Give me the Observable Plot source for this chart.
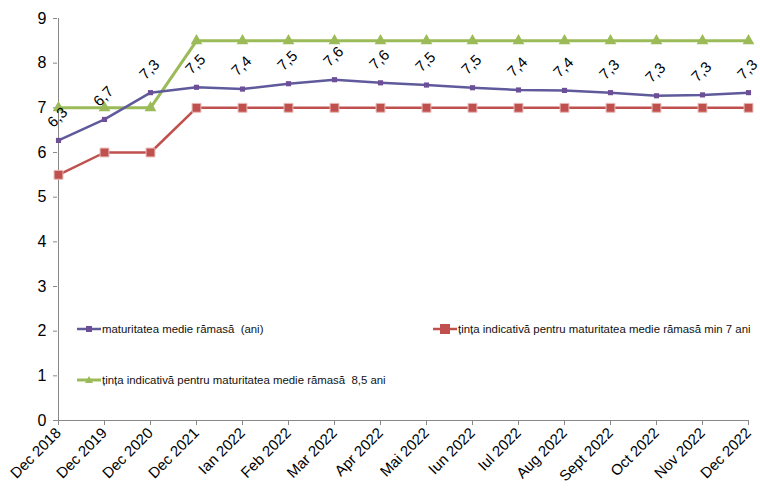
<!DOCTYPE html>
<html><head><meta charset="utf-8">
<script src="https://cdn.jsdelivr.net/npm/d3@7"></script>
<script src="https://cdn.jsdelivr.net/npm/@observablehq/plot@0.6"></script>
<style>
body{margin:0;background:#fff;font-family:"Liberation Sans",Arial,sans-serif;}
#wrap{position:relative;width:760px;height:489px;overflow:hidden;}
.leg{position:absolute;font-size:11.4px;color:#111;display:flex;align-items:center;white-space:pre;height:16px;}
.leg svg{margin-right:1px;}
</style></head><body><div id="wrap"></div>
<script>
const categories = ["Dec 2018","Dec 2019","Dec 2020","Dec 2021","Ian 2022","Feb 2022","Mar 2022","Apr 2022","Mai 2022","Iun 2022","Iul 2022","Aug 2022","Sept 2022","Oct 2022","Nov 2022","Dec 2022"];
const maturitate = [6.27,6.74,7.34,7.46,7.42,7.54,7.63,7.56,7.51,7.45,7.40,7.39,7.34,7.27,7.29,7.34];
const maturitateLabels = ["6,3","6,7","7,3","7,5","7,4","7,5","7,6","7,6","7,5","7,5","7,4","7,4","7,3","7,3","7,3","7,3"];
const tintaMin7 = [5.5,6,6,7,7,7,7,7,7,7,7,7,7,7,7,7];
const tinta85 = [7,7,7,8.5,8.5,8.5,8.5,8.5,8.5,8.5,8.5,8.5,8.5,8.5,8.5,8.5];
const yTicks = [0,1,2,3,4,5,6,7,8,9];
const seriesNames = ["maturitatea medie rămasă  (ani)","țința indicativă pentru maturitatea medie rămasă min 7 ani","țința indicativă pentru maturitatea medie rămasă  8,5 ani"];

const C_BLUE = "#5f5a9c", C_BLUE_M = "#6c4f96", C_RED = "#c0504d", C_GREEN = "#9bbb59";

const rows = categories.map((c, i) => ({c, m: maturitate[i], lab: maturitateLabels[i], r: tintaMin7[i], g: tinta85[i]}));

const chart = Plot.plot({
  width: 760, height: 489,
  marginLeft: 57, marginRight: 11, marginTop: 18, marginBottom: 69,
  style: {fontFamily: '"Liberation Sans", Arial, sans-serif', background: "#fff", color: "#000"},
  x: {type: "point", domain: categories, padding: 0, label: null},
  y: {domain: [0, 9], label: null},
  marks: [
    Plot.axisY({ticks: yTicks, tickSize: 4, tickPadding: 7, fontSize: 16, tickFormat: d => d, stroke: "#888"}),
    Plot.axisX({tickRotate: -45, tickSize: 5, tickPadding: 5, fontSize: 15, stroke: "#888"}),
    Plot.ruleX([0], {x: () => categories[0], stroke: "#888", strokeWidth: 1}),
    Plot.ruleY([0], {stroke: "#888", strokeWidth: 1}),
    Plot.line(rows, {x: "c", y: "g", stroke: C_GREEN, strokeWidth: 3}),
    Plot.dot(rows, {x: "c", y: "g", symbol: "triangle", r: 3.4, fill: C_GREEN, stroke: C_GREEN}),
    Plot.line(rows, {x: "c", y: "r", stroke: C_RED, strokeWidth: 2.5}),
    Plot.dot(rows, {x: "c", y: "r", symbol: "square", r: 5, fill: C_RED, stroke: "#e8b8b6", strokeWidth: 1}),
    Plot.line(rows, {x: "c", y: "m", stroke: C_BLUE, strokeWidth: 2.5}),
    Plot.dot(rows, {x: "c", y: "m", symbol: "square", r: 2.9, fill: C_BLUE_M}),
    Plot.text(rows, {x: "c", y: "m", text: "lab", rotate: -45, dx: -1, dy: -23, fontSize: 15, fill: "#000"})
  ]
});
const wrap = document.getElementById("wrap");
wrap.appendChild(chart);

function legendItem(name, color, marker, left, top) {
  const d = document.createElement("div");
  d.className = "leg";
  d.style.left = left + "px"; d.style.top = top + "px";
  const sw = d3.create("svg").attr("width", 24).attr("height", 14);
  sw.append("line").attr("x1", 0).attr("x2", 24).attr("y1", 7).attr("y2", 7).attr("stroke", color).attr("stroke-width", marker === "tri" ? 3 : 2.5);
  if (marker === "small") sw.append("rect").attr("x", 9).attr("y", 4).attr("width", 6).attr("height", 6).attr("fill", C_BLUE_M);
  if (marker === "sq") sw.append("rect").attr("x", 7).attr("y", 2).attr("width", 10).attr("height", 10).attr("fill", color);
  if (marker === "tri") sw.append("path").attr("d", "M12,3 L16,10 L8,10 Z").attr("fill", color);
  d.appendChild(sw.node());
  const t = document.createElement("span"); t.textContent = name; d.appendChild(t);
  wrap.appendChild(d);
}
legendItem(seriesNames[0], C_BLUE, "small", 77, 321);
legendItem(seriesNames[1], C_RED, "sq", 433, 321);
legendItem(seriesNames[2], C_GREEN, "tri", 77, 372);
</script></body></html>
